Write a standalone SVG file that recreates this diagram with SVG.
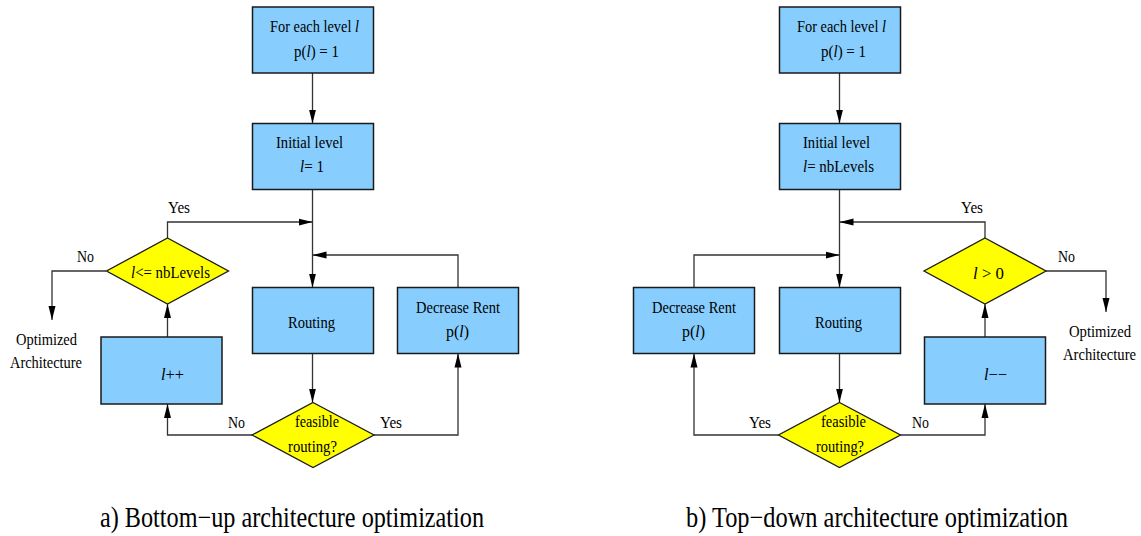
<svg xmlns="http://www.w3.org/2000/svg" width="1141" height="536" viewBox="0 0 1141 536">
<style>
.box{fill:#87CEFF;stroke:#1a1a1a;stroke-width:1.5}
.dia{fill:#FFFF00;stroke:#1a1a1a;stroke-width:1.3}
.t{font-family:"Liberation Serif","Times New Roman",serif;font-size:17px;fill:#000}
.lb{font-family:"Liberation Serif","Times New Roman",serif;font-size:16px;fill:#000}
.cap{font-family:"Liberation Serif","Times New Roman",serif;font-size:29px;fill:#000}
.i{font-style:italic}
.c{fill:none;stroke:#333;stroke-width:1.3;marker-end:url(#ah)}
</style>
<defs>
<marker id="ah" viewBox="0 0 14 8" refX="14" refY="4" markerWidth="14" markerHeight="8" markerUnits="userSpaceOnUse" orient="auto">
<path d="M0,0.5 L14,4 L0,7.5 Z" fill="#000"/>
</marker>
</defs>

<g id="connectors">
<path class="c" d="M312.5,73 V123.5"/>
<path class="c" d="M312.5,189.5 V287.5"/>
<path class="c" d="M167.5,238 V222 H312.5"/>
<path class="c" d="M458,287.5 V255 H312.5"/>
<path class="c" d="M312.5,353.5 V402.5"/>
<path class="c" d="M252,435 H167.5 V404"/>
<path class="c" d="M167.5,337 V304"/>
<path class="c" d="M374,435 H458 V353.5"/>
<path class="c" d="M106,271 H52 V320"/>

<path class="c" d="M839.5,73 V123.5"/>
<path class="c" d="M839.5,189.5 V287.5"/>
<path class="c" d="M985,238 V222 H839.5"/>
<path class="c" d="M694,287.5 V255 H839.5"/>
<path class="c" d="M839.5,353.5 V402.5"/>
<path class="c" d="M778.5,435 H694 V353.5"/>
<path class="c" d="M900.5,435 H985 V404"/>
<path class="c" d="M985,337 V304"/>
<path class="c" d="M1046,271 H1106 V312"/>
</g>

<g id="a-init">
<rect class="box" x="252.5" y="7" width="121" height="66"/>
<text class="t" x="270" y="32" textLength="89" lengthAdjust="spacingAndGlyphs">For each level <tspan class="i">l</tspan></text>
<text class="t" x="294" y="57" textLength="45" lengthAdjust="spacingAndGlyphs">p(<tspan class="i">l</tspan>) = 1</text>
</g>
<g id="a-initial-level">
<rect class="box" x="252.5" y="123.5" width="121" height="66"/>
<text class="t" x="276" y="148" textLength="67" lengthAdjust="spacingAndGlyphs">Initial level</text>
<text class="t" x="300" y="172" textLength="24" lengthAdjust="spacingAndGlyphs"><tspan class="i">l</tspan>= 1</text>
</g>
<g id="a-cond">
<polygon class="dia" points="167.5,238 228.5,271 167.5,304 106.5,271"/>
<text class="t" x="131" y="278" textLength="79" lengthAdjust="spacingAndGlyphs"><tspan class="i">l</tspan>&lt;= nbLevels</text>
</g>
<g id="a-routing">
<rect class="box" x="252.5" y="287.5" width="121" height="66"/>
<text class="t" x="288" y="328" textLength="47" lengthAdjust="spacingAndGlyphs">Routing</text>
</g>
<g id="a-decrease">
<rect class="box" x="397.5" y="287.5" width="121" height="66"/>
<text class="t" x="416" y="313" textLength="84" lengthAdjust="spacingAndGlyphs">Decrease Rent</text>
<text class="t" x="446" y="337" textLength="23" lengthAdjust="spacingAndGlyphs">p(<tspan class="i">l</tspan>)</text>
</g>
<g id="a-inc">
<rect class="box" x="101" y="337" width="121" height="67"/>
<text class="t" x="161" y="380" textLength="23" lengthAdjust="spacingAndGlyphs"><tspan class="i">l</tspan>++</text>
</g>
<g id="a-feasible">
<polygon class="dia" points="313,402.5 374,435 313,467.5 252,435"/>
<text class="t" x="295" y="427" textLength="44" lengthAdjust="spacingAndGlyphs">feasible</text>
<text class="t" x="288" y="452" textLength="49" lengthAdjust="spacingAndGlyphs">routing?</text>
</g>
<g id="a-labels">
<text class="lb" x="168" y="213" textLength="22" lengthAdjust="spacingAndGlyphs">Yes</text>
<text class="lb" x="77" y="262" textLength="17" lengthAdjust="spacingAndGlyphs">No</text>
<text class="lb" x="228" y="428" textLength="17" lengthAdjust="spacingAndGlyphs">No</text>
<text class="lb" x="380" y="428" textLength="22" lengthAdjust="spacingAndGlyphs">Yes</text>
</g>
<g id="a-output">
<text class="lb" x="16" y="345" textLength="61" lengthAdjust="spacingAndGlyphs">Optimized</text>
<text class="lb" x="10" y="368" textLength="72" lengthAdjust="spacingAndGlyphs">Architecture</text>
</g>

<g id="b-init">
<rect class="box" x="779.5" y="7" width="121" height="66"/>
<text class="t" x="797" y="32" textLength="89" lengthAdjust="spacingAndGlyphs">For each level <tspan class="i">l</tspan></text>
<text class="t" x="821" y="57" textLength="45" lengthAdjust="spacingAndGlyphs">p(<tspan class="i">l</tspan>) = 1</text>
</g>
<g id="b-initial-level">
<rect class="box" x="779.5" y="123.5" width="121" height="66"/>
<text class="t" x="803" y="148" textLength="67" lengthAdjust="spacingAndGlyphs">Initial level</text>
<text class="t" x="803" y="172" textLength="71" lengthAdjust="spacingAndGlyphs"><tspan class="i">l</tspan>= nbLevels</text>
</g>
<g id="b-cond">
<polygon class="dia" points="985,238 1046,271 985,304 924,271"/>
<text class="t" x="973" y="279" textLength="31" lengthAdjust="spacingAndGlyphs"><tspan class="i">l</tspan> &gt; 0</text>
</g>
<g id="b-routing">
<rect class="box" x="779.5" y="287.5" width="121" height="66"/>
<text class="t" x="815" y="328" textLength="47" lengthAdjust="spacingAndGlyphs">Routing</text>
</g>
<g id="b-decrease">
<rect class="box" x="633.5" y="287.5" width="121" height="66"/>
<text class="t" x="652" y="313" textLength="84" lengthAdjust="spacingAndGlyphs">Decrease Rent</text>
<text class="t" x="682" y="337" textLength="23" lengthAdjust="spacingAndGlyphs">p(<tspan class="i">l</tspan>)</text>
</g>
<g id="b-dec">
<rect class="box" x="924.5" y="337" width="121" height="67"/>
<text class="t" x="984" y="380" textLength="23" lengthAdjust="spacingAndGlyphs"><tspan class="i">l</tspan>−−</text>
</g>
<g id="b-feasible">
<polygon class="dia" points="839.5,402.5 900.5,435 839.5,467.5 778.5,435"/>
<text class="t" x="821" y="427" textLength="45" lengthAdjust="spacingAndGlyphs">feasible</text>
<text class="t" x="816" y="452" textLength="48" lengthAdjust="spacingAndGlyphs">routing?</text>
</g>
<g id="b-labels">
<text class="lb" x="961" y="213" textLength="22" lengthAdjust="spacingAndGlyphs">Yes</text>
<text class="lb" x="1058" y="262" textLength="17" lengthAdjust="spacingAndGlyphs">No</text>
<text class="lb" x="749" y="428" textLength="22" lengthAdjust="spacingAndGlyphs">Yes</text>
<text class="lb" x="912" y="428" textLength="17" lengthAdjust="spacingAndGlyphs">No</text>
</g>
<g id="b-output">
<text class="lb" x="1069" y="337" textLength="62" lengthAdjust="spacingAndGlyphs">Optimized</text>
<text class="lb" x="1063" y="360" textLength="73" lengthAdjust="spacingAndGlyphs">Architecture</text>
</g>

<g id="captions">
<text class="cap" x="100" y="527" textLength="384" lengthAdjust="spacingAndGlyphs">a) Bottom−up architecture optimization</text>
<text class="cap" x="686" y="527" textLength="382" lengthAdjust="spacingAndGlyphs">b) Top−down architecture optimization</text>
</g>
</svg>
